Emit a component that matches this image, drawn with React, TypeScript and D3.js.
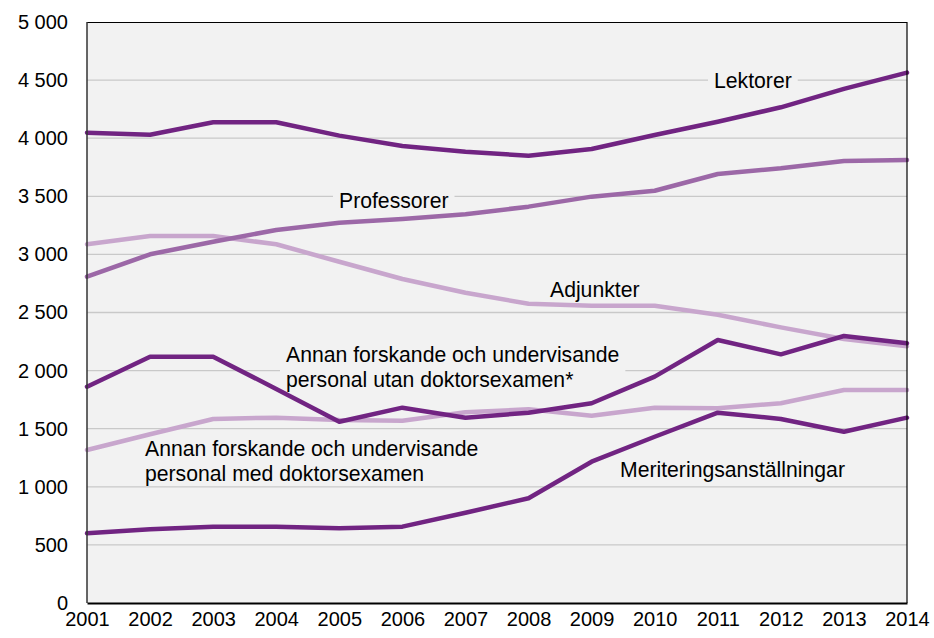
import React, { useRef, useEffect } from "react";
import * as d3 from "d3";

const years = [2001, 2002, 2003, 2004, 2005, 2006, 2007, 2008, 2009, 2010, 2011, 2012, 2013, 2014];

const lektorer = [4047, 4030, 4137, 4137, 4022, 3933, 3884, 3849, 3907, 4028, 4142, 4266, 4425, 4564];
const professorer = [2808, 3001, 3109, 3210, 3273, 3305, 3345, 3411, 3497, 3548, 3692, 3741, 3804, 3813];
const adjunkter = [3087, 3158, 3158, 3087, 2937, 2788, 2670, 2575, 2558, 2558, 2481, 2372, 2272, 2209];
const annanUtan = [1861, 2120, 2120, 1842, 1560, 1681, 1595, 1638, 1719, 1948, 2263, 2140, 2298, 2235];
const annanMed = [1317, 1452, 1584, 1595, 1575, 1569, 1641, 1667, 1612, 1681, 1676, 1719, 1833, 1833];
const meritering = [600, 634, 657, 657, 643, 657, 777, 901, 1216, 1431, 1638, 1584, 1474, 1595];

const yTicks = [0, 500, 1000, 1500, 2000, 2500, 3000, 3500, 4000, 4500, 5000];

const DARK = "#712482";
const MID = "#9c68a7";
const LIGHT = "#c8a6cd";

// drawing order: light lines under darker ones
const series = [
  { name: "Adjunkter", values: adjunkter, color: LIGHT },
  { name: "Annan med", values: annanMed, color: LIGHT },
  { name: "Professorer", values: professorer, color: MID },
  { name: "Lektorer", values: lektorer, color: DARK },
  { name: "Annan utan", values: annanUtan, color: DARK },
  { name: "Meritering", values: meritering, color: DARK },
];

const labels = [
  { lines: ["Lektorer"], x: 714, y: 88 },
  { lines: ["Professorer"], x: 339, y: 208 },
  { lines: ["Adjunkter"], x: 550, y: 297 },
  { lines: ["Annan forskande och undervisande", "personal utan doktorsexamen*"], x: 286, y: 362 },
  { lines: ["Annan forskande och undervisande", "personal med doktorsexamen"], x: 145, y: 456 },
  { lines: ["Meriteringsanställningar"], x: 620, y: 477 },
];

const App = () => {
  const svgRef = useRef<SVGSVGElement>(null);

  useEffect(() => {
    const width = 934;
    const height = 638;
    const m = { left: 87, right: 27, top: 22, bottom: 35 };
    const font = "'Liberation Sans', Arial, sans-serif";

    const svg = d3.select(svgRef.current).attr("width", width).attr("height", height);
    svg.selectAll("*").remove();

    const x = d3.scaleLinear().domain([2001, 2014]).range([m.left, width - m.right]);
    const y = d3.scaleLinear().domain([0, 5000]).range([height - m.bottom, m.top]);

    svg.append("rect")
      .attr("x", m.left).attr("y", m.top)
      .attr("width", width - m.right - m.left)
      .attr("height", height - m.bottom - m.top)
      .attr("fill", "#f2f2f2");

    // gridlines
    svg.append("g")
      .selectAll("line")
      .data(yTicks.filter(d => d > 0 && d < 5000))
      .join("line")
      .attr("x1", m.left).attr("x2", width - m.right)
      .attr("y1", d => y(d)).attr("y2", d => y(d))
      .attr("stroke", "#c9c9c9")
      .attr("stroke-width", 1.3);

    // label boxes go over the gridlines, under the series
    const boxLayer = svg.append("g");
    const lineLayer = svg.append("g");
    const textLayer = svg.append("g");

    // frame
    svg.append("line")
      .attr("x1", m.left).attr("x2", width - m.right)
      .attr("y1", m.top + 0.5).attr("y2", m.top + 0.5)
      .attr("stroke", "#000").attr("stroke-width", 1);
    svg.append("line")
      .attr("x1", width - m.right).attr("x2", width - m.right)
      .attr("y1", m.top).attr("y2", height - m.bottom)
      .attr("stroke", "#000").attr("stroke-width", 1.2);
    svg.append("line")
      .attr("x1", m.left).attr("x2", m.left)
      .attr("y1", m.top).attr("y2", height - m.bottom)
      .attr("stroke", "#333").attr("stroke-width", 1.5);

    const yAxis = d3.axisLeft(y).tickValues(yTicks).tickSize(0).tickPadding(19)
      .tickFormat(d => d3.format(",")(d as number).replace(/,/g, " "));
    const yg = svg.append("g").attr("transform", `translate(${m.left},0)`).call(yAxis);
    yg.select(".domain").remove();
    yg.selectAll("text").attr("font-family", font).attr("font-size", 20).attr("fill", "#000");

    const xAxis = d3.axisBottom(x).tickValues(years).tickSize(0).tickPadding(9).tickFormat(d3.format("d"));
    const xg = svg.append("g").attr("transform", `translate(0,${height - m.bottom})`).call(xAxis);
    xg.select(".domain").attr("stroke", "#000").attr("stroke-width", 2);
    xg.selectAll("text").attr("font-family", font).attr("font-size", 20).attr("fill", "#000");

    const line = d3.line<number>()
      .x((_, i) => x(years[i]))
      .y(d => y(d));

    lineLayer
      .selectAll("path")
      .data(series)
      .join("path")
      .attr("d", d => line(d.values))
      .attr("fill", "none")
      .attr("stroke", d => d.color)
      .attr("stroke-width", 4.5)
      .attr("stroke-linejoin", "round")
      .attr("stroke-linecap", "round");

    labels.forEach(l => {
      const t = textLayer.append("text")
        .attr("font-family", font)
        .attr("font-size", 21.2)
        .attr("fill", "#000");
      l.lines.forEach((s, i) => {
        t.append("tspan").attr("x", l.x).attr("y", l.y + i * 24.5).text(s);
      });
      const bb = (t.node() as SVGTextElement).getBBox();
      boxLayer.append("rect")
        .attr("fill", "#f2f2f2")
        .attr("x", bb.x - 6).attr("y", bb.y)
        .attr("width", bb.width + 12).attr("height", bb.height);
    });
  }, []);

  return (
    <svg ref={svgRef} style={{ position: "absolute", left: 0, top: 0 }}></svg>
  );
};

export default App;
